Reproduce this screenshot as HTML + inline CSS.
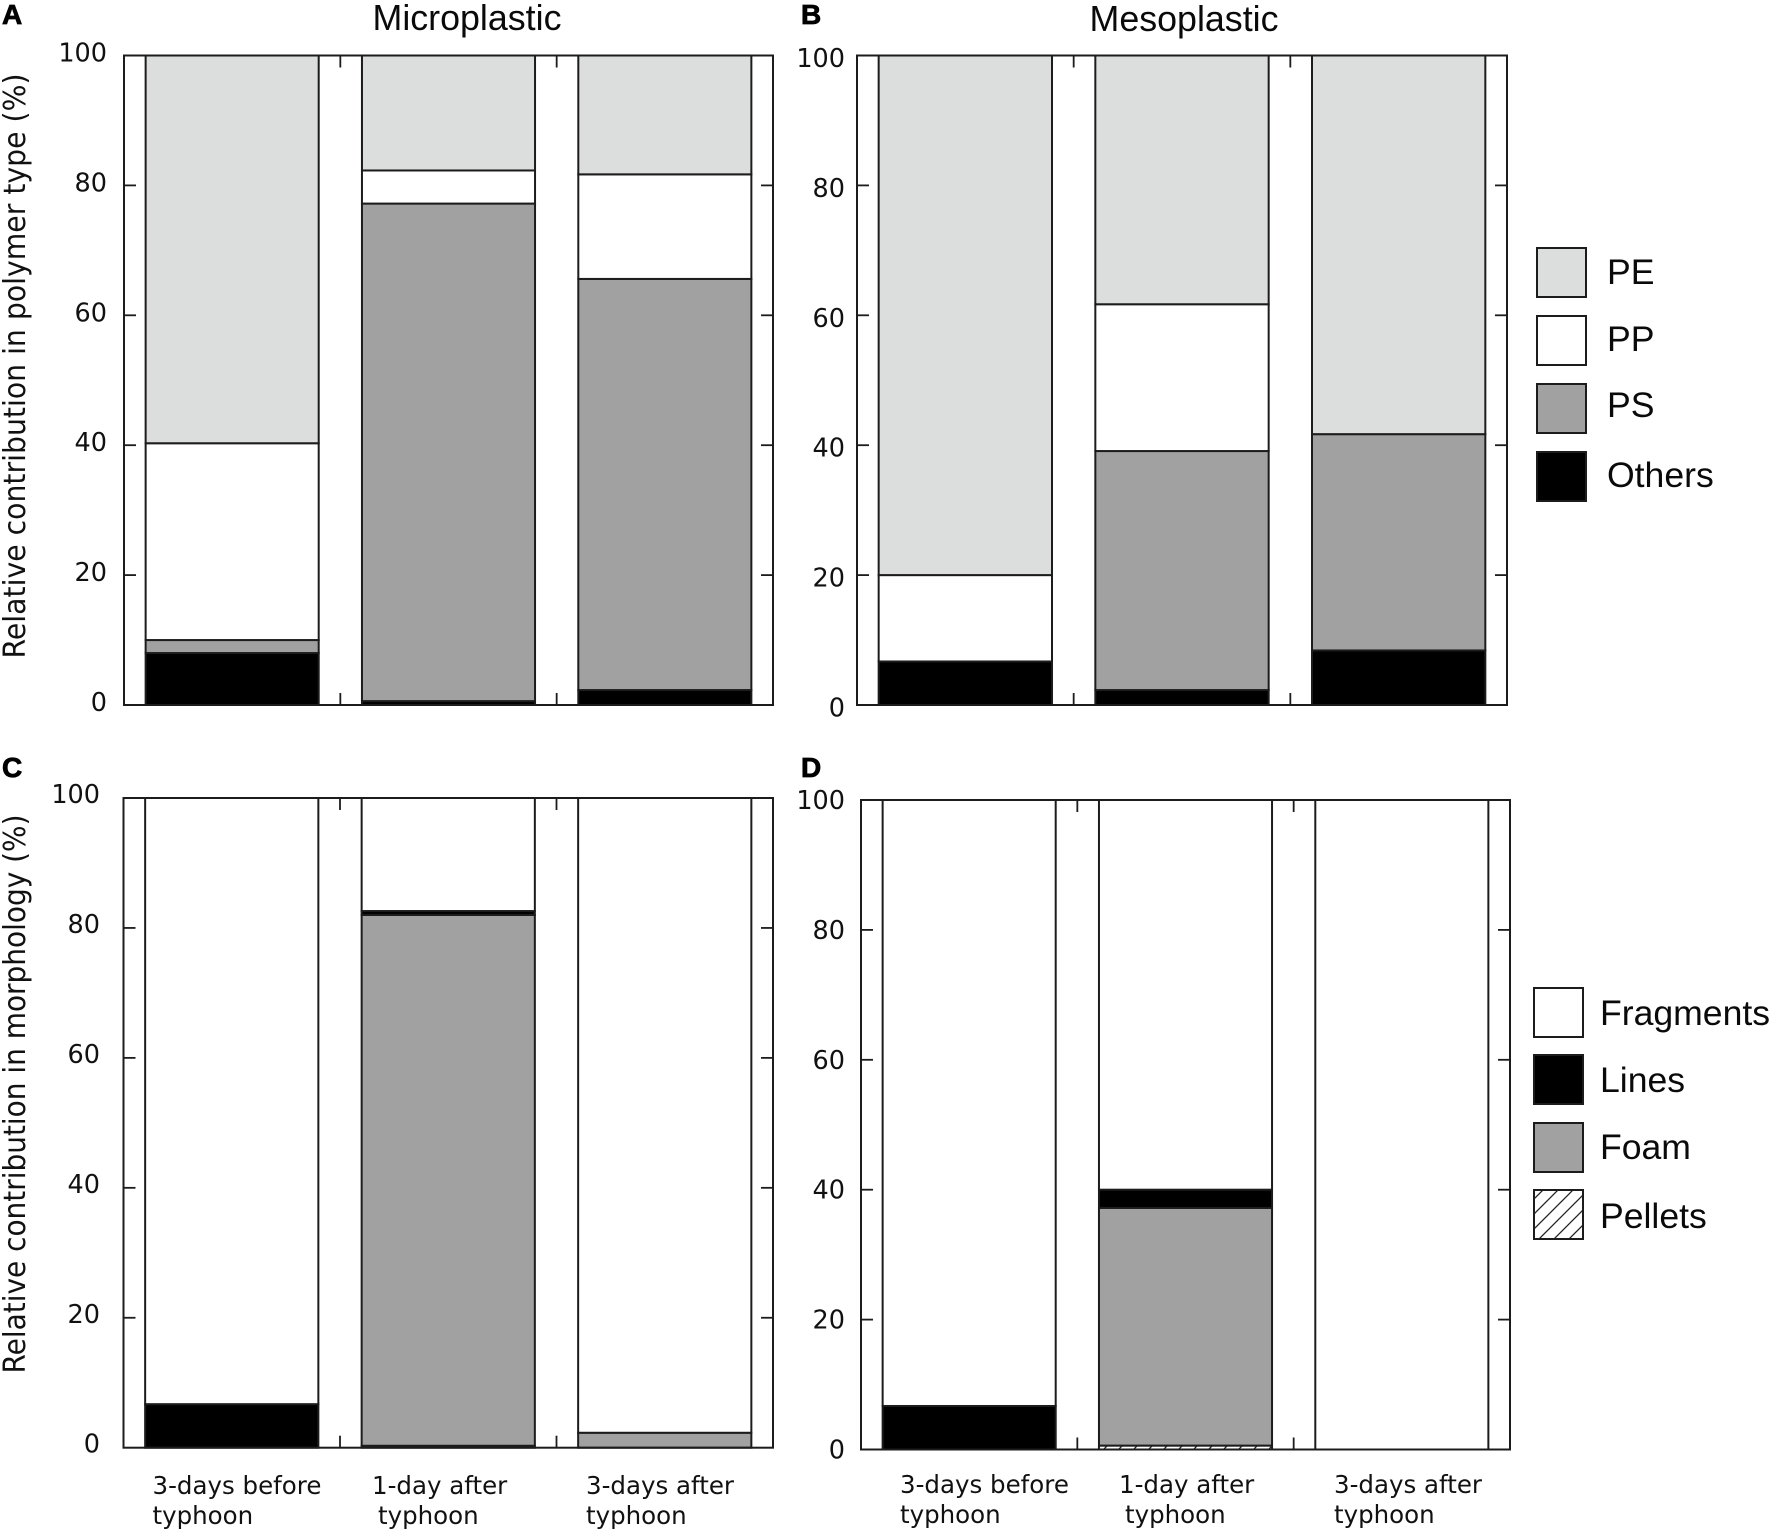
<!DOCTYPE html>
<html lang="en">
<head>
<meta charset="utf-8">
<title>Relative contribution of polymer type and morphology</title>
<style>
html,body{margin:0;padding:0;background:#fff;width:1772px;height:1531px;overflow:hidden}
svg{display:block}
.lucida{font-family:"DejaVu Sans","Liberation Sans",sans-serif;fill:#111}
.helv{font-family:"Liberation Sans",sans-serif;fill:#0a0a0a}
.letter{font-family:"Liberation Sans",sans-serif;font-weight:700;font-size:28px;fill:#000;stroke:#000;stroke-width:.8}
</style>
</head>
<body>
<svg id="chart" xmlns="http://www.w3.org/2000/svg" width="1772" height="1531" viewBox="0 0 1772 1531">
  <defs>
    <pattern id="hatch" patternUnits="userSpaceOnUse" width="15" height="15" patternTransform="translate(1 2)">
      <rect width="15" height="15" fill="#fff"/>
      <path d="M-2 17 L17 -2 M-2 2 L2 -2 M13 17 L17 13" stroke="#222" stroke-width="1.3" fill="none"/>
    </pattern>
  </defs>
  <text class="letter" x="2" y="24">A</text>
  <text class="letter" x="801" y="24">B</text>
  <text class="letter" x="2" y="777">C</text>
  <text class="letter" x="801" y="777">D</text>
  <text class="helv" x="467" y="30" font-size="35.8" text-anchor="middle">Microplastic</text>
  <text class="helv" x="1184" y="31" font-size="35.8" text-anchor="middle">Mesoplastic</text>
  <text class="lucida" transform="translate(25 366) rotate(-90)" font-size="30" text-anchor="middle" textLength="585" lengthAdjust="spacingAndGlyphs">Relative contribution in polymer type (%)</text>
  <text class="lucida" transform="translate(25 1094) rotate(-90)" font-size="30" text-anchor="middle" textLength="559" lengthAdjust="spacingAndGlyphs">Relative contribution in morphology (%)</text>
  <g id="panels"></g>
  <g id="legends"></g>
</svg>
<script>
// ---- Chart data (percent) ----
const categoryFirstLines = ['3-days before', '1-day after', '3-days after'];
const categorySecondLines = ['typhoon', 'typhoon', 'typhoon'];
const yTickValues = [0, 20, 40, 60, 80, 100];

const microOthers = [8.0, 0.6, 2.3];
const microPS = [2.0, 76.6, 63.3];
const microPP = [30.3, 5.1, 16.1];
const microPE = [59.7, 17.7, 18.3];

const mesoOthers = [6.7, 2.3, 8.4];
const mesoPS = [0, 36.8, 33.3];
const mesoPP = [13.3, 22.6, 0];
const mesoPE = [80, 38.3, 58.3];

const microPellets = [0, 0.3, 0];
const microFoam = [0, 81.7, 2.3];
const microLines = [6.7, 0.6, 0];
const microFragments = [93.3, 17.4, 97.7];

const mesoPellets = [0, 0.6, 0];
const mesoFoam = [0, 36.6, 0];
const mesoLines = [6.7, 2.8, 0];
const mesoFragments = [93.3, 60, 100];

const polymerNames = ['Others', 'PS', 'PP', 'PE'];
const morphologyNames = ['Pellets', 'Foam', 'Lines', 'Fragments'];

// ---- Styling / layout ----
const fills = {
  PE: '#dcdddd', PP: '#ffffff', PS: '#a1a1a1', Others: '#000000',
  Fragments: '#ffffff', Lines: '#000000', Foam: '#a1a1a1', Pellets: 'url(#hatch)'
};
const stroke = '#1c1c1c';
const panels = [
  { id: 'a', names: polymerNames, series: [microOthers, microPS, microPP, microPE],
    left: 124, right: 773, top: 55.5, bottom: 705, labelRight: 107, labelDy: -3,
    catX: null },
  { id: 'b', names: polymerNames, series: [mesoOthers, mesoPS, mesoPP, mesoPE],
    left: 857, right: 1507, top: 55.5, bottom: 705, labelRight: 845, labelDy: 2.5,
    catX: null },
  { id: 'c', names: morphologyNames, series: [microPellets, microFoam, microLines, microFragments],
    left: 123.5, right: 773, top: 798, bottom: 1447.7, labelRight: 100, labelDy: -4,
    catX: [[152.5, 152.5], [372, 378], [586, 586]], catY: 1494 },
  { id: 'd', names: morphologyNames, series: [mesoPellets, mesoFoam, mesoLines, mesoFragments],
    left: 861, right: 1510, top: 800, bottom: 1449.5, labelRight: 845, labelDy: 0,
    catX: [[900, 900], [1119, 1125], [1334, 1334]], catY: 1493 }
];

const NS = 'http://www.w3.org/2000/svg';
function make(parent, tag, attrs, text) {
  const el = document.createElementNS(NS, tag);
  for (const k in attrs) el.setAttribute(k, attrs[k]);
  if (text !== undefined) el.textContent = text;
  parent.appendChild(el);
  return el;
}

function drawPanel(p) {
  const g = make(document.getElementById('panels'), 'g', {});
  
  

  const count = categoryFirstLines.length;
  const step = (p.right - p.left) / count;
  const barWidth = step * 0.8;
  const xBand = i => p.left + step * i;
  const yScale = v => p.bottom - (p.bottom - p.top) * v / 100;

  // stacked bars
  for (let c = 0; c < count; c++) {
    let base = 0;
    const x = xBand(c) + (step - barWidth) / 2;
    p.series.forEach((values, s) => {
      const v = values[c];
      if (v <= 0) return;
      const y1 = yScale(base + v);
      const y0 = yScale(base);
      const rect = make(g, 'rect', {
        x: x, y: y1, width: barWidth, height: y0 - y1,
        fill: fills[p.names[s]], stroke: stroke, 'stroke-width': 2
      });
      
      
      base += v;
    });
  }

  // frame
  const frame = make(g, 'rect', {
    x: p.left, y: p.top, width: p.right - p.left, height: p.bottom - p.top,
    fill: 'none', stroke: stroke, 'stroke-width': 2
  });
  
  

  // y ticks and labels
  yTickValues.forEach(v => {
    const y = yScale(v);
    if (v > 0 && v < 100) {
      const tl = make(g, 'line', { x1: p.left, x2: p.left + 12, y1: y, y2: y, stroke: stroke, 'stroke-width': 1.8 });
      
      
      const tr = make(g, 'line', { x1: p.right - 12, x2: p.right, y1: y, y2: y, stroke: stroke, 'stroke-width': 1.8 });
      
      
    }
    const lab = make(g, 'text', {
      x: p.labelRight, y: y + p.labelDy + 9, 'text-anchor': 'end', 'font-size': 25.5, class: 'lucida'
    }, String(v));
    
    
  });

  // x ticks between bars
  for (let c = 1; c < count; c++) {
    const x = xBand(c);
    const t1 = make(g, 'line', { x1: x, x2: x, y1: p.top, y2: p.top + 12, stroke: stroke, 'stroke-width': 1.8 });
    
    
    const t2 = make(g, 'line', { x1: x, x2: x, y1: p.bottom - 12, y2: p.bottom, stroke: stroke, 'stroke-width': 1.8 });
    
    
  }

  // category labels
  if (p.catX) {
    for (let c = 0; c < count; c++) {
      const l1 = make(g, 'text', { x: p.catX[c][0], y: p.catY, 'font-size': 24.5, class: 'lucida' }, categoryFirstLines[c]);
      
      
      const l2 = make(g, 'text', { x: p.catX[c][1], y: p.catY + 30, 'font-size': 24.5, class: 'lucida' }, categorySecondLines[c]);
      
      
    }
  }
}
panels.forEach(drawPanel);

// ---- Legends ----
const legendPolymer = ['PE', 'PP', 'PS', 'Others'];
const legendMorphology = ['Fragments', 'Lines', 'Foam', 'Pellets'];
function drawLegend(name, entries, boxX, boxYs, textX, baselines) {
  const g = make(document.getElementById('legends'), 'g', {});
  
  
  entries.forEach((label, i) => {
    const box = make(g, 'rect', {
      x: boxX, y: boxYs[i], width: 49, height: 49,
      fill: fills[label], stroke: stroke, 'stroke-width': 2
    });
    
    
    const txt = make(g, 'text', { x: textX, y: baselines[i], 'font-size': 35.6, class: 'helv' }, label);
    
    
  });
}
drawLegend('polymer-legend', legendPolymer, 1537, [248, 316, 384, 452], 1607, [284, 351, 417, 487]);
drawLegend('morphology-legend', legendMorphology, 1534, [988, 1055, 1123, 1190], 1600, [1025, 1092, 1159, 1228]);
</script>
</body>
</html>
